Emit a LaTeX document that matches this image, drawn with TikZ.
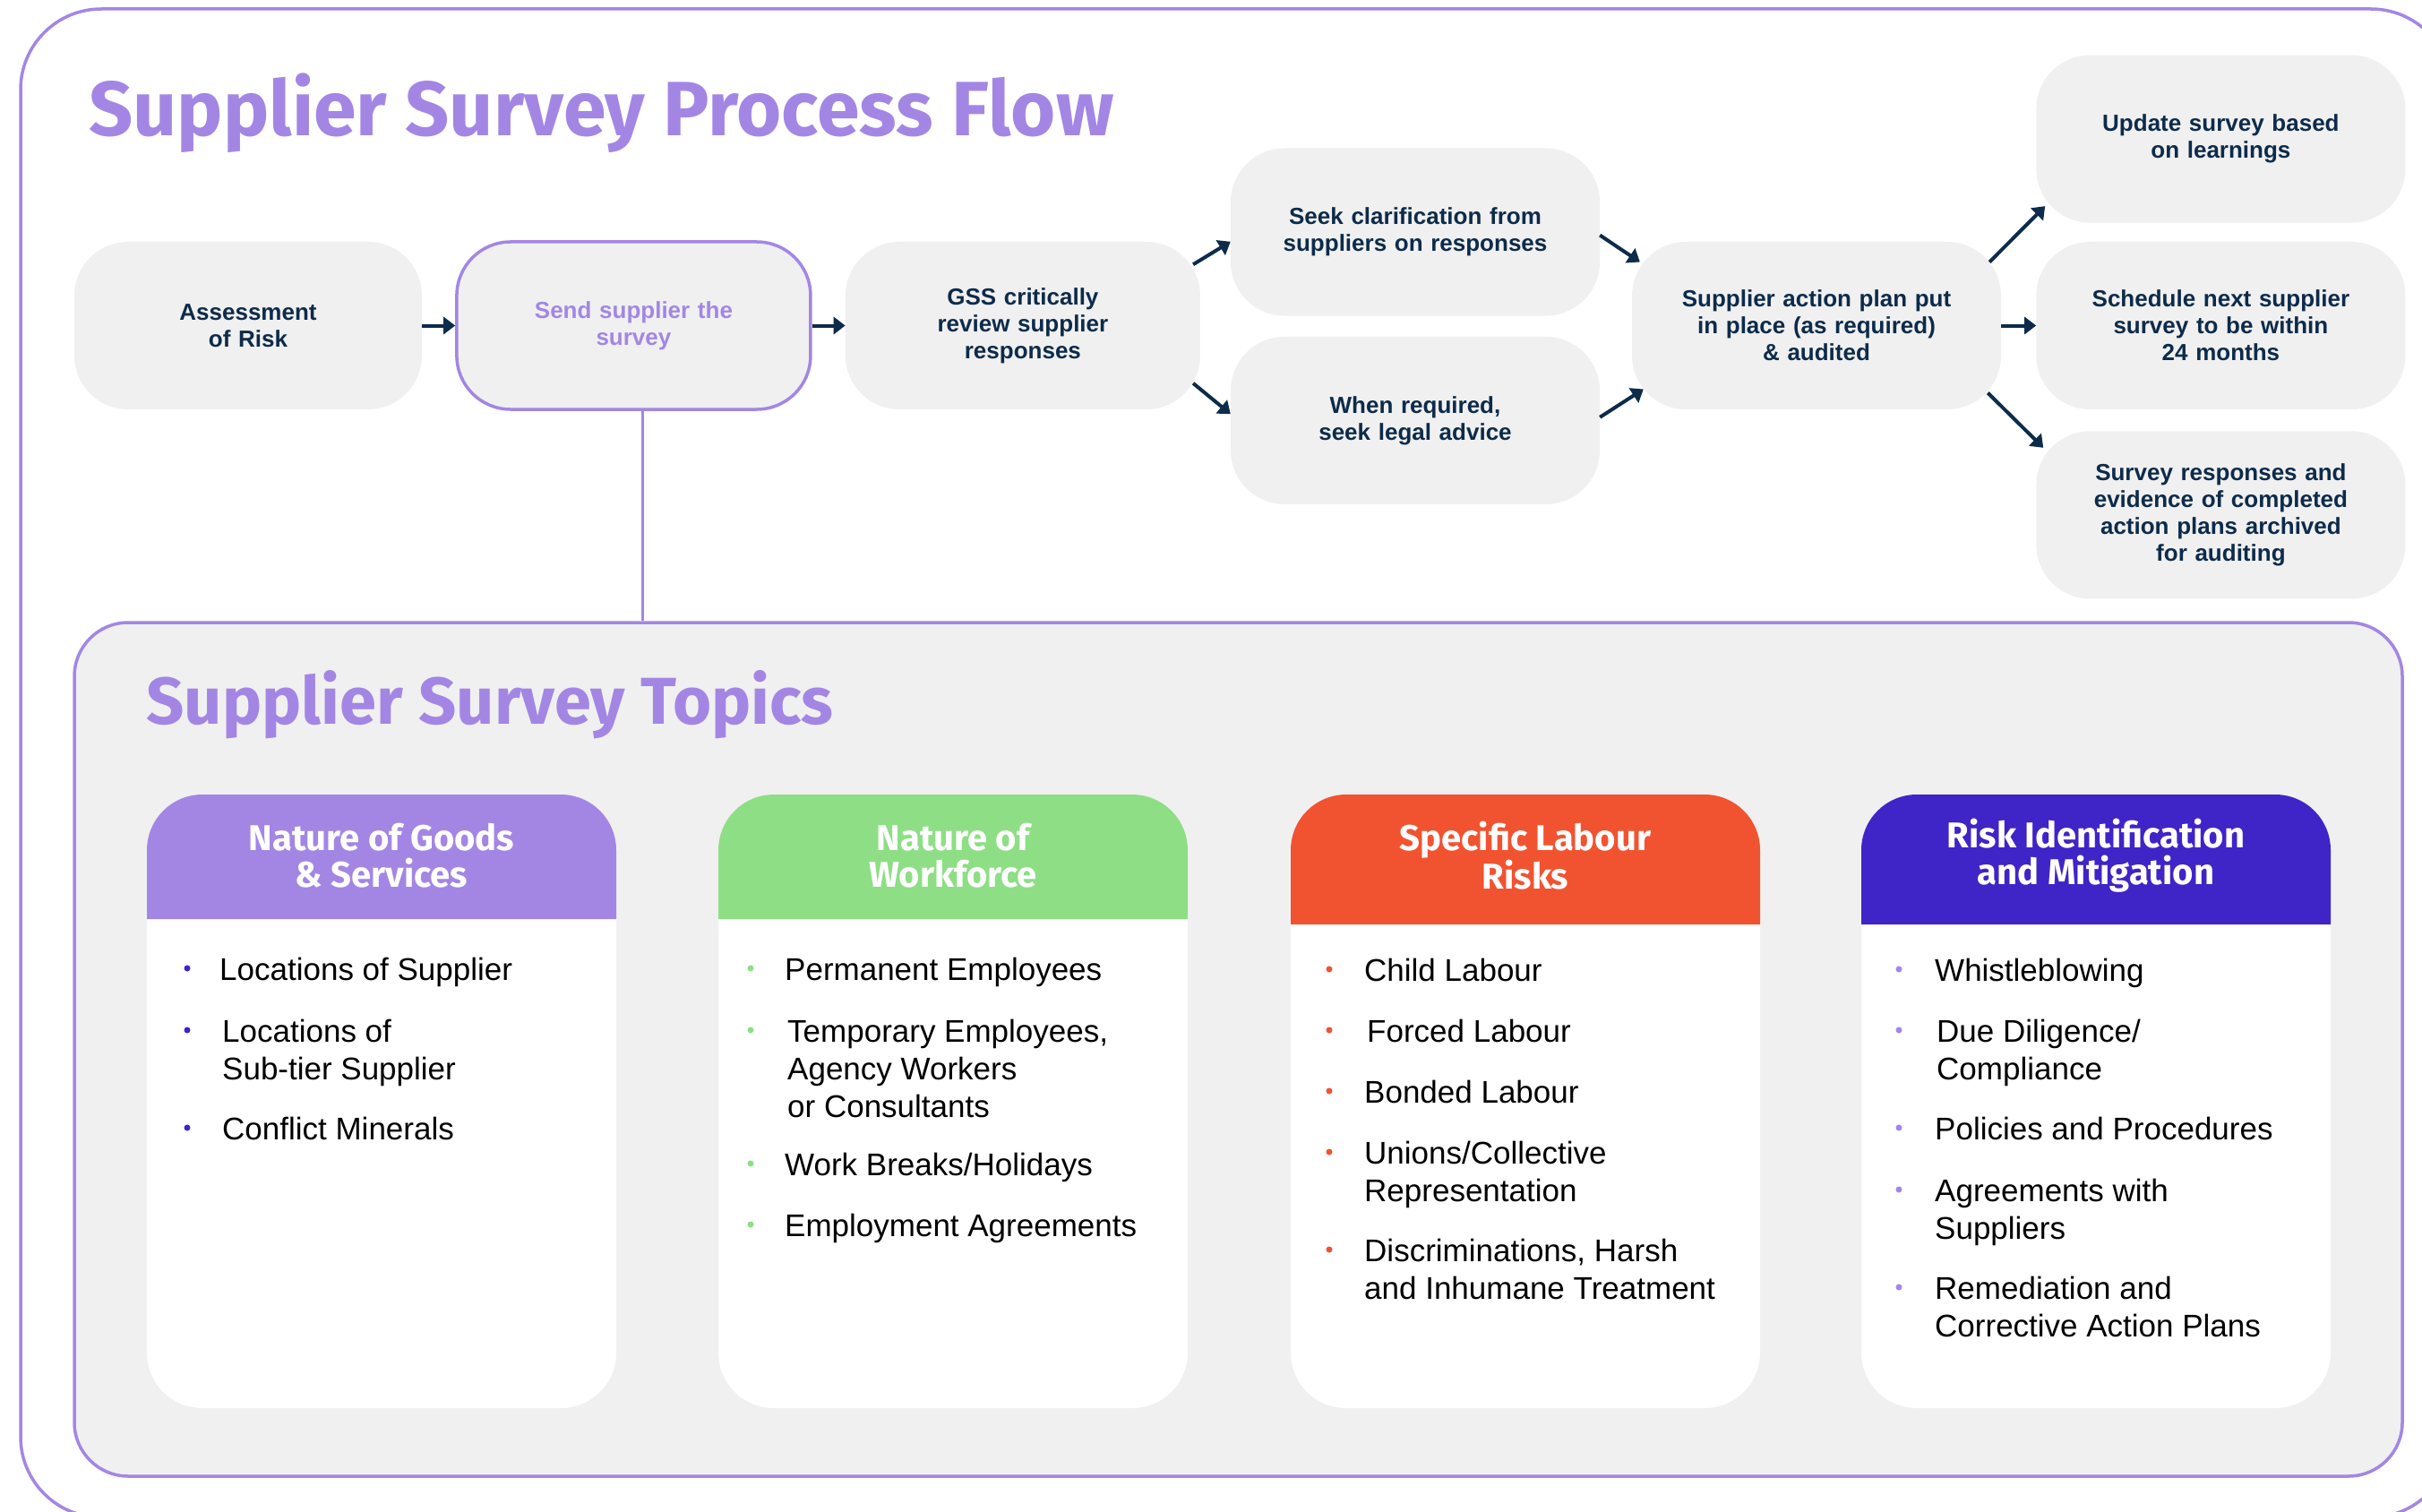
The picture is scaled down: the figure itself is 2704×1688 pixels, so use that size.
\documentclass[tikz,border=0pt]{standalone}
\usepackage{fontspec}
\setmainfont{Liberation Sans}
\newfontfamily\headfont{Fira Sans}
\usetikzlibrary{positioning,arrows.meta}

\definecolor{lilac}{HTML}{A386E4}
\definecolor{navy}{HTML}{0D2B4A}
\definecolor{boxgray}{HTML}{F0F0F0}
\definecolor{leaf}{HTML}{8EDE86}
\definecolor{flame}{HTML}{F15331}
\definecolor{indigo}{HTML}{3F24C8}

\begin{document}
\begin{tikzpicture}
    [
      x=1pt, y=-1pt,
      >/.tip={Triangle[length=13pt,width=19pt]},
      flow/.style={->, draw=navy, line width=4pt},
      my step/.style={rectangle, rounded corners=60pt, fill=boxgray, minimum height=187pt, minimum width=#1, text width=330pt, inner sep=0pt, align=center, text=navy, font=\fontsize{26}{30}\selectfont\bfseries},
      my step/.default=412pt,
      my card/.style={rectangle, rounded corners=62pt, fill=white, minimum width=524pt, minimum height=685pt, outer sep=0pt},
      my head/.style={text=white, align=center, font=\headfont\bfseries\fontsize{40}{41}\selectfont},
      my item/.style={anchor=base west, align=left, inner sep=0pt, font=\fontsize{35}{42}\selectfont},
      my dot/.style={circle, fill=#1, minimum size=7pt, inner sep=0pt}
    ]
    \useasboundingbox (0,0) rectangle (2704,1688);
    \clip (0,0) rectangle (2704,1688);
    \draw [lilac, line width=3.5pt, rounded corners=90pt] (23,10) rectangle (2737,1694);

    \node (title) [anchor=base west, text=lilac, font=\headfont\bfseries\fontsize{86}{96}\selectfont] at (96,152) {Supplier Survey Process Flow};

    % process flow
    \node (1) [my step=388pt] at (277,363.5) {Assessment\\of Risk};
    \node (2) [my step=395pt, right=37pt of 1, draw=lilac, line width=3.5pt, text=lilac] {Send supplier the\\survey};
    \node (3) [my step=396pt, right=37pt of 2] {GSS critically\\review supplier\\responses};
    \node (4) [my step] at (1580,259) {Seek clarification from\\suppliers on responses};
    \node (5) [my step, below=23pt of 4] {When required,\\seek legal advice};
    \node (6) [my step] at (2028,363.5) {Supplier action plan put\\in place (as required)\\\& audited};
    \node (8) [my step, right=39pt of 6] {Schedule next supplier\\survey to be within\\24 months};
    \node (7) [my step, above=21pt of 8] {Update survey based\\on learnings};
    \node (9) [my step, below=24pt of 8] {Survey responses and\\evidence of completed\\action plans archived\\for auditing};

    \path [flow] (1) -- (2);
    \path [flow] (2) -- (3);
    \path [flow] ([xshift=-8pt]3.19) -- (4.183);
    \path [flow] ([xshift=-8pt]3.-18) -- (5.178);
    \path [flow] (4.-1) -- ([xshift=9pt]6.161);
    \path [flow] (5.1) -- ([xshift=13pt]6.199);
    \path [flow] ([xshift=-13pt]6.19) -- ([xshift=10pt]7.200);
    \path [flow] (6) -- (8);
    \path [flow] ([xshift=-15pt]6.-20) -- ([xshift=8pt]9.160);

    % topics
    \node (topics) [rectangle, rounded corners=60pt, fill=boxgray, draw=lilac, line width=3.5pt, minimum width=2599pt, minimum height=953pt] at (1382.5,1171.5) {};
    \path [draw=lilac, line width=3.5pt] ([xshift=10pt]2.south) -- ([xshift=10pt]2.south |- topics.north);
    \node (subtitle) [anchor=base west, text=lilac, font=\headfont\bfseries\fontsize{74}{84}\selectfont] at (160,808) {Supplier Survey Topics};

    \node (c1) [my card] at (426,1229.5) {};
    \node (c2) [my card] at (1064,1229.5) {};
    \node (c3) [my card] at (1703,1229.5) {};
    \node (c4) [my card] at (2340,1229.5) {};
    \fill [lilac] ([yshift=-139pt]c1.north west) [rounded corners=62pt] -- (c1.north west) -- (c1.north east) [sharp corners] -- ([yshift=-139pt]c1.north east) -- cycle;
    \fill [leaf] ([yshift=-139pt]c2.north west) [rounded corners=62pt] -- (c2.north west) -- (c2.north east) [sharp corners] -- ([yshift=-139pt]c2.north east) -- cycle;
    \fill [flame] ([yshift=-145pt]c3.north west) [rounded corners=62pt] -- (c3.north west) -- (c3.north east) [sharp corners] -- ([yshift=-145pt]c3.north east) -- cycle;
    \fill [indigo] ([yshift=-145pt]c4.north west) [rounded corners=62pt] -- (c4.north west) -- (c4.north east) [sharp corners] -- ([yshift=-145pt]c4.north east) -- cycle;
    \node (h1) [my head] at ([yshift=-68pt]c1.north) {Nature of Goods\\\& Services};
    \node (h2) [my head] at ([yshift=-68pt]c2.north) {Nature of\\Workforce};
    \node (h3) [my head] at ([yshift=-68pt]c3.north) {Specific Labour\\Risks};
    \node (h4) [my head] at ([yshift=-68pt]c4.north) {Risk Identification\\and Mitigation};

    % nature of goods
    \node (d11) [my dot=indigo] at (209,1081) {};
    \node (i11) [my item] at (245,1094) {Locations of Supplier};
    \node (d12) [my dot=indigo] at (209,1150) {};
    \node (i12) [my item] at (248,1205) {Locations of\\Sub-tier Supplier};
    \node (d13) [my dot=indigo] at (209,1259) {};
    \node (i13) [my item] at (248,1272) {Conflict Minerals};

    % nature of workforce
    \node (d21) [my dot=leaf] at (838,1081) {};
    \node (i21) [my item] at (876,1094) {Permanent Employees};
    \node (d22) [my dot=leaf] at (838,1150) {};
    \node (i22) [my item] at (879,1247) {Temporary Employees,\\Agency Workers\\or Consultants};
    \node (d23) [my dot=leaf] at (838,1299) {};
    \node (i23) [my item] at (876,1312) {Work Breaks/Holidays};
    \node (d24) [my dot=leaf] at (838,1367) {};
    \node (i24) [my item] at (876,1380) {Employment Agreements};

    % labour risks
    \node (d31) [my dot=flame] at (1484,1082) {};
    \node (i31) [my item] at (1523,1095) {Child Labour};
    \node (d32) [my dot=flame] at (1484,1150) {};
    \node (i32) [my item] at (1526,1163) {Forced Labour};
    \node (d33) [my dot=flame] at (1484,1218) {};
    \node (i33) [my item] at (1523,1231) {Bonded Labour};
    \node (d34) [my dot=flame] at (1484,1286) {};
    \node (i34) [my item] at (1523,1341) {Unions/Collective\\Representation};
    \node (d35) [my dot=flame] at (1484,1395) {};
    \node (i35) [my item] at (1523,1450) {Discriminations, Harsh\\and Inhumane Treatment};

    % risk identification
    \node (d41) [my dot=lilac] at (2120,1082) {};
    \node (i41) [my item] at (2160,1095) {Whistleblowing};
    \node (d42) [my dot=lilac] at (2120,1150) {};
    \node (i42) [my item] at (2162,1205) {Due Diligence/\\Compliance};
    \node (d43) [my dot=lilac] at (2120,1259) {};
    \node (i43) [my item] at (2160,1272) {Policies and Procedures};
    \node (d44) [my dot=lilac] at (2120,1328) {};
    \node (i44) [my item] at (2160,1383) {Agreements with\\Suppliers};
    \node (d45) [my dot=lilac] at (2120,1437) {};
    \node (i45) [my item] at (2160,1492) {Remediation and\\Corrective Action Plans};
  \end{tikzpicture}
\end{document}
